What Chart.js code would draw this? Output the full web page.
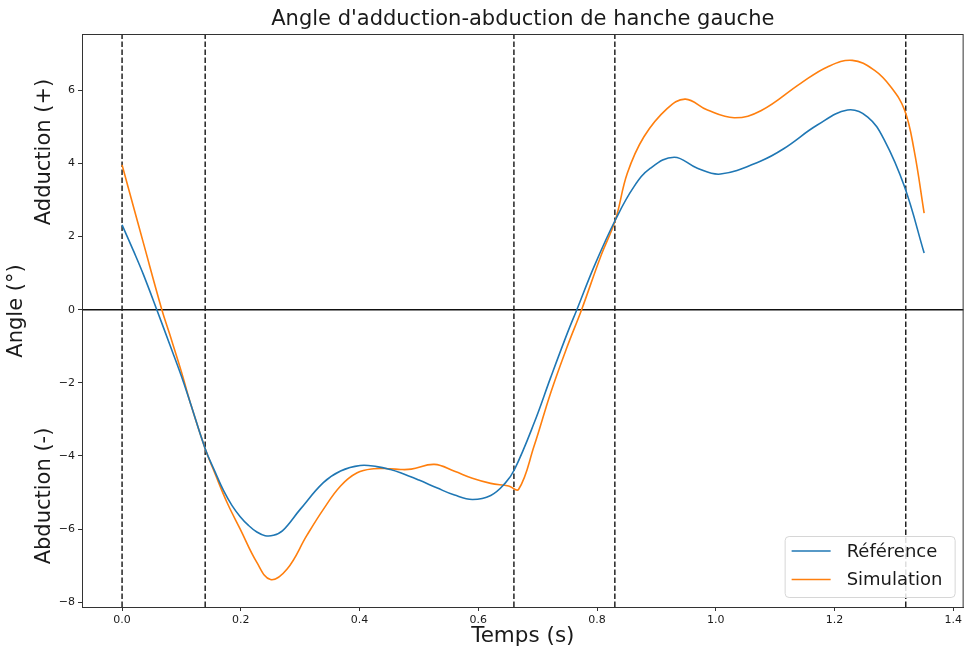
<!DOCTYPE html>
<html>
<head>
<meta charset="utf-8">
<script src="https://cdn.jsdelivr.net/npm/chart.js@4"></script>
<style>
  html, body { margin: 0; padding: 0; background: #fff; }
  canvas { display: block; }
</style>
</head>
<body>
<canvas id="myChart" width="965" height="652"></canvas>
<script>
// Référence (blue)
const refT = [0, 0.02, 0.036, 0.0585, 0.08, 0.10, 0.115, 0.14, 0.157, 0.171, 0.185, 0.199, 0.213,
    0.227, 0.241, 0.255, 0.270, 0.300, 0.339, 0.368, 0.401, 0.429, 0.452, 0.469, 0.50, 0.53, 0.56,
    0.59, 0.621, 0.645, 0.661, 0.694, 0.722, 0.750, 0.766, 0.795, 0.831, 0.862, 0.890, 0.930, 0.969,
    1.008, 1.076, 1.115, 1.171, 1.222, 1.256, 1.284, 1.318, 1.351];
const refV = [2.32, 1.58, 0.96, 0, -0.94, -1.82, -2.55, -3.8, -4.45, -4.95, -5.35, -5.66, -5.9,
    -6.08, -6.18, -6.17, -6.05, -5.46, -4.73, -4.41, -4.26, -4.29, -4.37, -4.46, -4.66, -4.87, -5.07,
    -5.19, -5.08, -4.75, -4.37, -3.1, -1.85, -0.64, 0, 1.18, 2.46, 3.36, 3.87, 4.17, 3.87,
    3.71, 4.07, 4.41, 5.05, 5.46, 5.27, 4.64, 3.36, 1.55];

// Simulation (orange)
const simT = [0, 0.02, 0.036, 0.067, 0.08, 0.10, 0.115, 0.14, 0.157, 0.177, 0.199, 0.227, 0.250,
    0.278, 0.311, 0.339, 0.368, 0.396, 0.424, 0.452, 0.469, 0.487, 0.526, 0.560, 0.590, 0.621, 0.651,
    0.668, 0.694, 0.722, 0.750, 0.774, 0.806, 0.831, 0.851, 0.879, 0.918, 0.949, 0.986, 1.031,
    1.076, 1.143, 1.188, 1.230, 1.267, 1.295, 1.318, 1.334, 1.351];
const simV = [3.96, 2.77, 1.82, 0, -0.66, -1.7, -2.55, -3.8, -4.5, -5.28, -6.0, -6.91, -7.38,
    -7.09, -6.18, -5.46, -4.82, -4.46, -4.35, -4.35, -4.37, -4.36, -4.23, -4.42, -4.61, -4.75, -4.82,
    -4.91, -3.73, -2.27, -1.0, 0, 1.45, 2.46, 3.73, 4.73, 5.5, 5.76, 5.46, 5.25,
    5.44, 6.19, 6.64, 6.82, 6.55, 6.09, 5.46, 4.37, 2.64];

// event markers (dashed verticals)
const eventT = [0, 0.14, 0.66, 0.83, 1.32];

const xTicks = [0, 0.2, 0.4, 0.6, 0.8, 1.0, 1.2, 1.4];
const yTicks = [-8, -6, -4, -2, 0, 2, 4, 6];
const xMin = -0.0675, xMax = 1.4175;
const yMin = -8.13, yMax = 7.54;

const FONT = "'DejaVu Sans', sans-serif";
const TXT = '#1a1a1a';

const toPts = (ts, vs) => ts.map((t, i) => ({x: t, y: vs[i]}));

const datasets = [
    {
        label: 'Référence',
        data: toPts(refT, refV),
        borderColor: '#1f77b4',
        borderWidth: 1.6,
        pointRadius: 0,
        tension: 0.4,
        order: 0
    },
    {
        label: 'Simulation',
        data: toPts(simT, simV),
        borderColor: '#ff7f0e',
        borderWidth: 1.6,
        pointRadius: 0,
        tension: 0.4,
        order: 0
    },
    {
        label: '',
        data: [{x: xMin, y: 0}, {x: xMax, y: 0}],
        borderColor: '#111',
        borderWidth: 1.5,
        pointRadius: 0,
        order: 2
    }
];
eventT.forEach(t => {
    datasets.push({
        label: '',
        data: [{x: t, y: yMin}, {x: t, y: yMax}],
        borderColor: '#222',
        borderWidth: 1.5,
        borderDash: [5.5, 2.5],
        pointRadius: 0,
        order: 1
    });
});

const decor = {
    id: 'decor',
    afterDraw(chart) {
        const ctx = chart.ctx;
        const a = chart.chartArea;
        ctx.save();
        // frame
        ctx.strokeStyle = '#333';
        ctx.lineWidth = 1;
        ctx.strokeRect(a.left + 0.5, a.top + 0.5, a.right - a.left - 1, a.bottom - a.top);

        ctx.fillStyle = TXT;
        ctx.textAlign = 'center';
        ctx.textBaseline = 'middle';
        const cx = (a.left + a.right) / 2;
        ctx.font = '21px ' + FONT;
        ctx.fillText("Angle d'adduction-abduction de hanche gauche", cx, 20);
        ctx.font = '21.5px ' + FONT;
        ctx.fillText('Temps (s)', cx, 636);

        const vtext = (txt, x, y) => {
            ctx.save();
            ctx.translate(x, y);
            ctx.rotate(-Math.PI / 2);
            ctx.fillText(txt, 0, 0);
            ctx.restore();
        };
        ctx.font = '21px ' + FONT;
        vtext('Adduction (+)', 45, 152);
        vtext('Angle (°)', 17, 311);
        vtext('Abduction (-)', 45, 496);

        // legend
        const items = chart.data.datasets.filter(d => d.label);
        const bw = 170, bh = 61;
        const bx = a.right - 9 - bw, by = a.bottom - 10 - bh;
        ctx.beginPath();
        ctx.roundRect(bx + 0.5, by + 0.5, bw, bh, 4);
        ctx.fillStyle = 'rgba(255,255,255,0.85)';
        ctx.fill();
        ctx.strokeStyle = '#d6d6d6';
        ctx.stroke();
        ctx.font = '18px ' + FONT;
        ctx.textAlign = 'left';
        items.forEach((d, i) => {
            const y = by + 15 + i * 28.5;
            ctx.beginPath();
            ctx.moveTo(bx + 7, y);
            ctx.lineTo(bx + 46, y);
            ctx.strokeStyle = d.borderColor;
            ctx.lineWidth = 1.6;
            ctx.stroke();
            ctx.fillStyle = TXT;
            ctx.fillText(d.label, bx + 62, y + 1);
        });
        ctx.restore();
    }
};

const tickFont = {family: FONT, size: 11};

const config = {
    type: 'line',
    data: {datasets: datasets},
    options: {
        responsive: false,
        animation: false,
        layout: {padding: {top: 34, right: 1, left: 0, bottom: 0}},
        plugins: {legend: {display: false}, tooltip: {enabled: false}},
        scales: {
            x: {
                type: 'linear',
                min: xMin,
                max: xMax,
                afterFit: s => { s.height = 45; },
                afterBuildTicks: s => { s.ticks = xTicks.map(v => ({value: v})); },
                ticks: {
                    font: tickFont,
                    color: TXT,
                    padding: 3,
                    maxRotation: 0,
                    callback: v => v.toFixed(1)
                },
                grid: {display: true, drawOnChartArea: false, tickLength: 4, color: '#333'},
                border: {display: true, color: '#333'}
            },
            y: {
                type: 'linear',
                min: yMin,
                max: yMax,
                afterFit: s => { s.width = 82; },
                afterBuildTicks: s => { s.ticks = yTicks.map(v => ({value: v})); },
                ticks: {
                    font: tickFont,
                    color: TXT,
                    padding: 3,
                    callback: v => (v < 0 ? '\u2212' + Math.abs(v) : '' + v)
                },
                grid: {display: true, drawOnChartArea: false, tickLength: 4, color: '#333'},
                border: {display: true, color: '#333'}
            }
        }
    },
    plugins: [decor]
};

const myChart = new Chart(document.getElementById('myChart'), config);
</script>
</body>
</html>
